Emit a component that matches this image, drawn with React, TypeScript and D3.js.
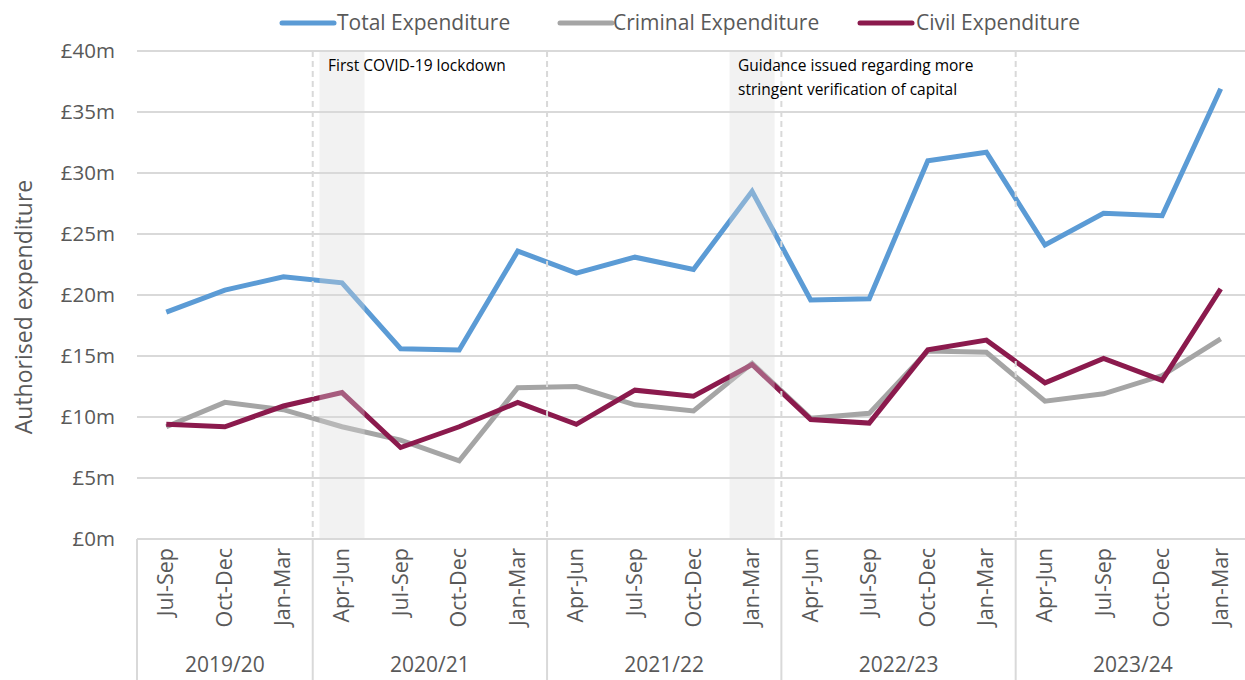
import React from 'react';
import * as d3 from 'd3';

const quarters = [
  'Jul-Sep', 'Oct-Dec', 'Jan-Mar',
  'Apr-Jun', 'Jul-Sep', 'Oct-Dec', 'Jan-Mar',
  'Apr-Jun', 'Jul-Sep', 'Oct-Dec', 'Jan-Mar',
  'Apr-Jun', 'Jul-Sep', 'Oct-Dec', 'Jan-Mar',
  'Apr-Jun', 'Jul-Sep', 'Oct-Dec', 'Jan-Mar',
];
const years = ['2019/20', '2020/21', '2021/22', '2022/23', '2023/24'];
const quartersPerYear = [3, 4, 4, 4, 4];

const totalSpend = [18.6, 20.4, 21.5, 21.0, 15.6, 15.5, 23.6, 21.8, 23.1, 22.1, 28.5, 19.6, 19.7, 31.0, 31.7, 24.1, 26.7, 26.5, 36.9];
const criminalSpend = [9.2, 11.2, 10.6, 9.2, 8.1, 6.4, 12.4, 12.5, 11.0, 10.5, 14.4, 9.9, 10.3, 15.4, 15.3, 11.3, 11.9, 13.4, 16.4];
const civilSpend = [9.4, 9.2, 10.9, 12.0, 7.5, 9.2, 11.2, 9.4, 12.2, 11.7, 14.3, 9.8, 9.5, 15.5, 16.3, 12.8, 14.8, 13.0, 20.5];

const yTicks = [0, 5, 10, 15, 20, 25, 30, 35, 40];

const seriesList = [
  { name: 'Total Expenditure', values: totalSpend, color: '#5B9BD5' },
  { name: 'Criminal Expenditure', values: criminalSpend, color: '#A5A5A5' },
  { name: 'Civil Expenditure', values: civilSpend, color: '#8B1A4D' },
];

// highlighted quarters (index into quarters) with their notes
const highlights = [
  { idx: 3, lines: ['First COVID-19 lockdown'], dx: -14 },
  { idx: 10, lines: ['Guidance issued regarding more', 'stringent verification of capital'], dx: -14 },
];

const W = 1245;
const H = 680;
const left = 137;
const right = 1250;
const top = 51;
const bottom = 539;
const font = '"Open Sans", Lato, sans-serif';
const textGrey = '#595959';
const gridGrey = '#D9D9D9';

export default function App() {
  const ids = quarters.map((_, i) => i);
  const x = d3.scaleBand<number>().domain(ids).range([left, right]).padding(0);
  const y = d3.scaleLinear().domain([0, 40]).range([bottom, top]);
  const cx = (i: number) => (x(i) as number) + x.bandwidth() / 2;

  const line = d3
    .line<number>()
    .x((_, i) => cx(i))
    .y((d) => y(d));

  // year group boundaries
  const bounds: number[] = [];
  let acc = 0;
  quartersPerYear.forEach((n) => {
    bounds.push(acc);
    acc += n;
  });

  const legendItems = [
    { x: 282, textX: 337 },
    { x: 560, textX: 613 },
    { x: 860, textX: 916 },
  ];

  return (
    <svg width={W} height={H} style={{ position: 'absolute', left: 0, top: 0, background: '#fff' }}>
      {/* legend */}
      {seriesList.map((s, i) => (
        <g key={s.name}>
          <line x1={legendItems[i].x} x2={legendItems[i].x + 52} y1={23} y2={23} stroke={s.color} strokeWidth={5} strokeLinecap="round" />
          <text x={legendItems[i].textX} y={30} fontFamily={font} fontSize={21} fill={textGrey}>
            {s.name}
          </text>
        </g>
      ))}

      {/* y gridlines and labels */}
      {yTicks.map((t) => (
        <g key={t}>
          <line x1={left} x2={right} y1={y(t)} y2={y(t)} stroke={gridGrey} strokeWidth={2} />
          <text x={115} y={y(t) + 7} textAnchor="end" fontFamily={font} fontSize={20.5} fill={textGrey}>
            {`£${t}m`}
          </text>
        </g>
      ))}

      <text
        transform={`translate(32, ${(top + bottom) / 2 + 12}) rotate(-90)`}
        textAnchor="middle"
        fontFamily={font}
        fontSize={23}
        fill={textGrey}
      >
        Authorised expenditure
      </text>

      {/* series */}
      {seriesList.map((s) => (
        <path key={s.name} d={line(s.values) || ''} fill="none" stroke={s.color} strokeWidth={5} strokeLinejoin="miter" />
      ))}

      {/* shaded quarters */}
      {highlights.map((h) => (
        <rect
          key={h.idx}
          x={cx(h.idx) - x.bandwidth() * 0.385}
          y={top}
          width={x.bandwidth() * 0.77}
          height={bottom - top + 1}
          fill={gridGrey}
          opacity={0.35}
        />
      ))}

      {/* dashed year separators */}
      {bounds.slice(1).map((b) => (
        <line key={b} x1={x(b) as number} x2={x(b) as number} y1={top} y2={bottom} stroke={gridGrey} strokeWidth={2} strokeDasharray="6,4" />
      ))}

      {/* notes */}
      {highlights.map((h) => (
        <text key={h.idx} x={cx(h.idx) + h.dx} y={71} fontFamily={font} fontSize={15.5} fill="#000">
          {h.lines.map((l, j) => (
            <tspan key={j} x={cx(h.idx) + h.dx} dy={j === 0 ? 0 : 24}>
              {l}
            </tspan>
          ))}
        </text>
      ))}

      {/* category axis */}
      <line x1={left} x2={right} y1={bottom} y2={bottom} stroke={gridGrey} strokeWidth={2} />
      {bounds.map((b) => (
        <line key={b} x1={x(b) as number} x2={x(b) as number} y1={bottom} y2={H} stroke={gridGrey} strokeWidth={2} />
      ))}
      {quarters.map((q, i) => (
        <text
          key={i}
          transform={`translate(${cx(i) + 7}, ${bottom + 9}) rotate(-90)`}
          textAnchor="end"
          fontFamily={font}
          fontSize={21.5}
          fill={textGrey}
        >
          {q}
        </text>
      ))}
      {years.map((yr, k) => {
        const start = x(bounds[k]) as number;
        const end = k + 1 < bounds.length ? (x(bounds[k + 1]) as number) : right;
        return (
          <text key={yr} x={(start + end) / 2} y={672} textAnchor="middle" fontFamily={font} fontSize={21} fill={textGrey}>
            {yr}
          </text>
        );
      })}
    </svg>
  );
}
